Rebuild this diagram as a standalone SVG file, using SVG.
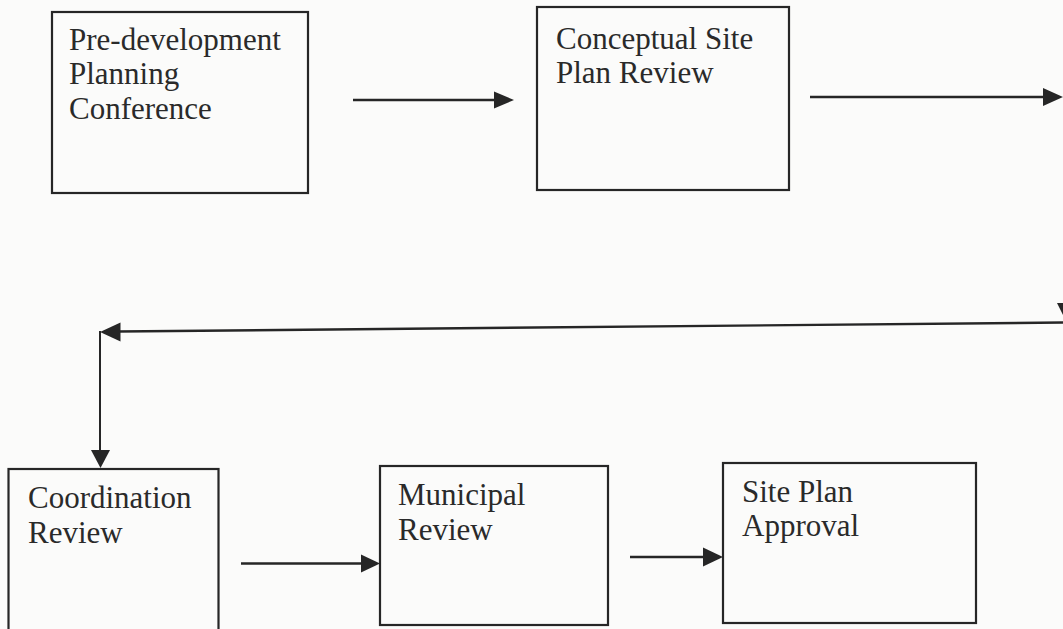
<svg xmlns="http://www.w3.org/2000/svg" width="1063" height="629" viewBox="0 0 1063 629">
<style>
.box{fill:none;stroke:#262626;stroke-width:2.2}
.lbl{font-family:"Liberation Serif","Times New Roman",serif;font-size:31px;fill:#2a2a2a}
.ln{stroke:#262626;stroke-width:2.4;fill:none}
.hd{fill:#262626}
</style>
<rect width="1063" height="629" fill="#fbfbfa"/>
<g id="n1">
<rect class="box" x="52" y="12" width="256" height="181"/>
<text class="lbl" x="69" y="50">Pre-development</text>
<text class="lbl" x="69" y="84">Planning</text>
<text class="lbl" x="69" y="118.5">Conference</text>
</g>
<g id="n2">
<rect class="box" x="537" y="7" width="252" height="183"/>
<text class="lbl" x="556" y="49">Conceptual Site</text>
<text class="lbl" x="556" y="83">Plan Review</text>
</g>
<g id="n3">
<rect class="box" x="8.5" y="469" width="210" height="170"/>
<text class="lbl" x="28" y="508">Coordination</text>
<text class="lbl" x="28" y="542.5">Review</text>
</g>
<g id="n4">
<rect class="box" x="380" y="466" width="228" height="159"/>
<text class="lbl" x="398" y="505">Municipal</text>
<text class="lbl" x="398" y="539.5">Review</text>
</g>
<g id="n5">
<rect class="box" x="723" y="463" width="253" height="160"/>
<text class="lbl" x="742" y="501.5">Site Plan</text>
<text class="lbl" x="742" y="536">Approval</text>
</g>
<g id="connectors">
<line class="ln" x1="353" y1="100" x2="496" y2="100"/>
<polygon class="hd" points="494,91.5 514,100 494,108.5"/>
<line class="ln" x1="810" y1="97" x2="1045" y2="97"/>
<polygon class="hd" points="1043,88 1063,97 1043,106"/>
<polygon class="hd" points="1057,303 1076,303 1066.5,322"/>
<line class="ln" x1="1063" y1="322.5" x2="118" y2="331.5"/>
<polygon class="hd" points="120.5,322.5 100,332 120.5,341.5"/>
<line class="ln" x1="100" y1="331" x2="100" y2="452" style="stroke-width:2"/>
<polygon class="hd" points="91,450 110,450 100.5,468"/>
<line class="ln" x1="241" y1="563.5" x2="363" y2="563.5"/>
<polygon class="hd" points="361,554.5 380,563.5 361,572.5"/>
<line class="ln" x1="630" y1="557" x2="705" y2="557"/>
<polygon class="hd" points="703,547.5 723,557 703,566.5"/>
</g>
</svg>
